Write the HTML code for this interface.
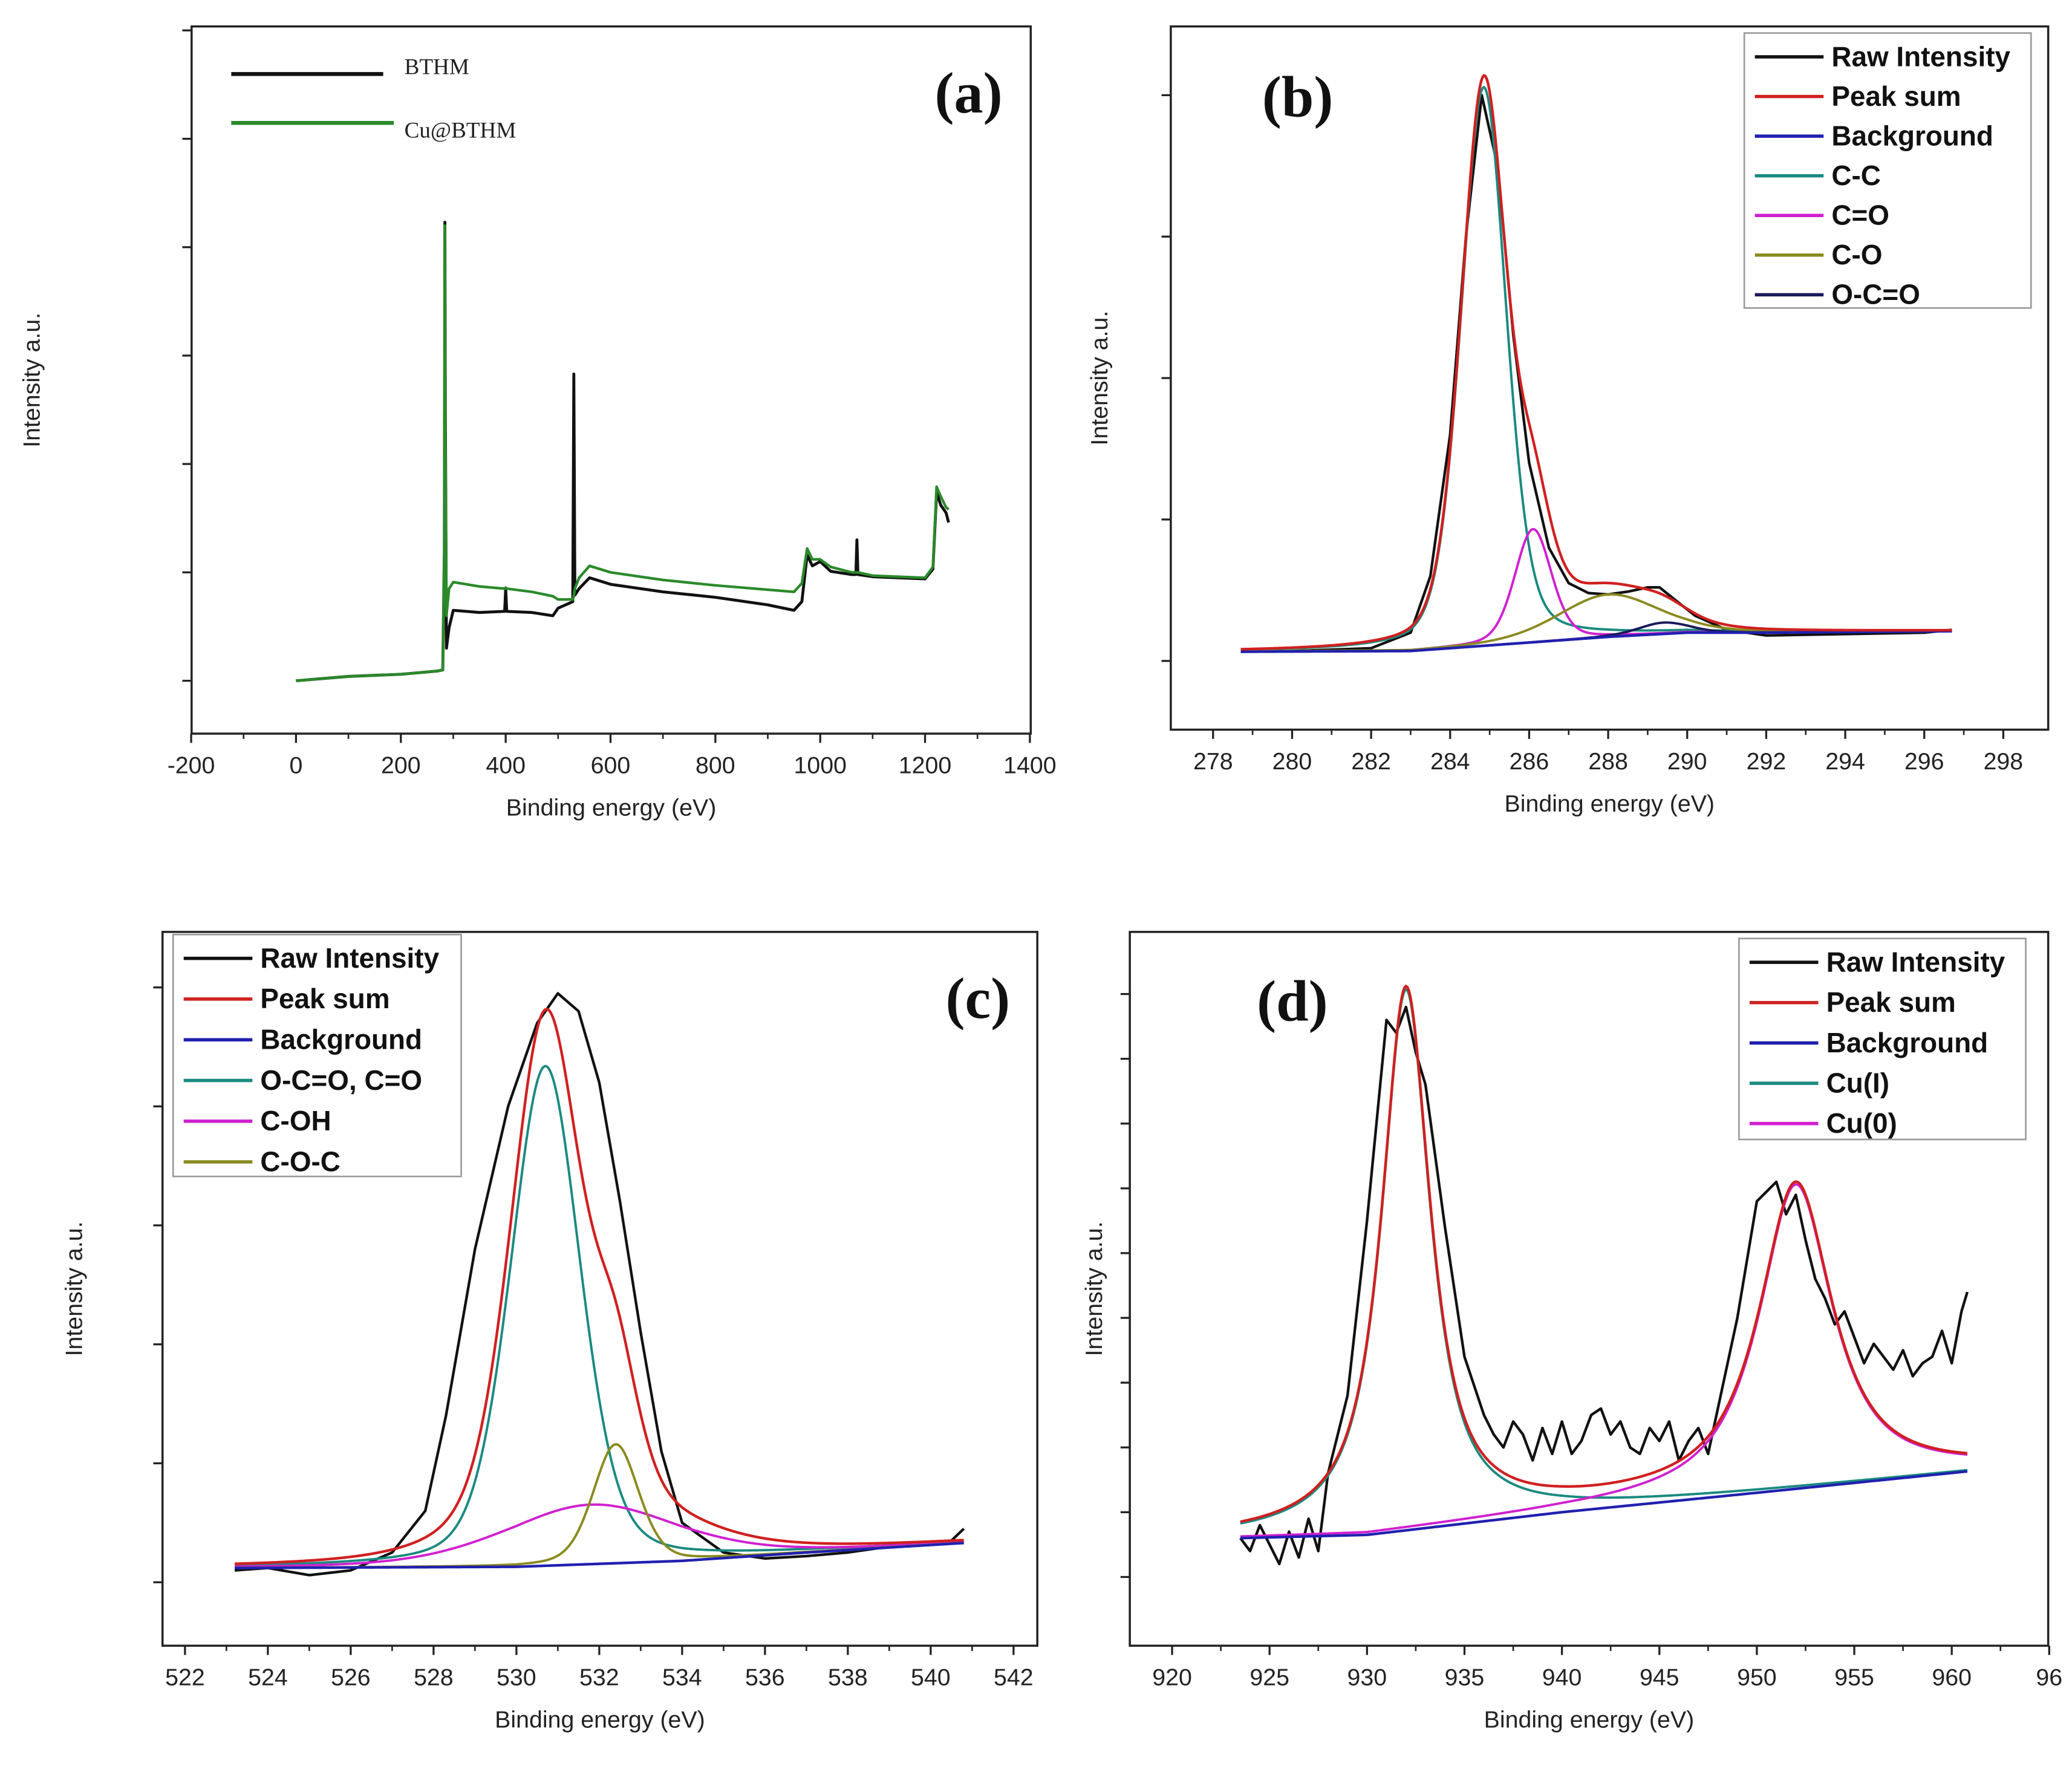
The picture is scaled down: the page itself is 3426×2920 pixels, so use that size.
<!DOCTYPE html>
<html><head><meta charset="utf-8">
<style>
html,body{margin:0;padding:0;background:#fff;}
svg{display:block;}
text{font-family:"Liberation Sans",sans-serif;}
</style></head>
<body>
<svg id="fig" xmlns="http://www.w3.org/2000/svg" width="3426" height="2920" viewBox="0 0 1568 1336" preserveAspectRatio="none">
<rect width="1568" height="1336" fill="#fff"/>
</svg>
<script>
// ---------- Panel (a) survey ----------
const aX = [0,100,200,270,280,283,284,285,287,292,300,350,398,400,402,450,490,500,528,530,532,540,560,600,700,800,900,950,965,975,985,1000,1020,1060,1068,1070,1072,1100,1200,1215,1222,1230,1240,1245];
const aBTHM = [0,0.04,0.06,0.09,0.1,1.2,4.23,2.4,0.3,0.49,0.65,0.63,0.64,0.85,0.64,0.63,0.6,0.67,0.73,2.83,0.79,0.85,0.95,0.89,0.82,0.77,0.7,0.65,0.73,1.16,1.06,1.1,1.01,0.98,0.98,1.3,0.98,0.96,0.94,1.03,1.74,1.62,1.55,1.46];
const aCu = [0,0.04,0.06,0.09,0.1,1.2,4.2,2.2,0.6,0.85,0.91,0.87,0.85,0.86,0.85,0.82,0.78,0.75,0.75,0.78,0.85,0.95,1.06,1.0,0.93,0.88,0.84,0.82,0.9,1.22,1.12,1.12,1.05,1.0,1.0,1.0,1.0,0.97,0.95,1.05,1.79,1.7,1.6,1.58];
const aXTicks = [-200,0,200,400,600,800,1000,1200,1400];
// ---------- Panel (b) C1s ----------
const bRawX = [278.7,280,282,283,283.5,284,284.4,284.8,285.2,285.6,286,286.5,287,287.5,288,288.5,289,289.3,289.7,290.2,291,292,294,296,296.7];
const bRaw = [0.065,0.07,0.09,0.2,0.6,1.6,3.0,4.0,3.5,2.3,1.4,0.8,0.55,0.48,0.47,0.49,0.52,0.52,0.43,0.32,0.22,0.18,0.19,0.2,0.22];
const bBgX = [278.7,283,284,286,288,290,292,296.7];
const bBg = [0.065,0.07,0.09,0.13,0.17,0.2,0.2,0.21];
const bNames = ["C-C","C=O","C-O","O-C=O"];
const bCenters = [284.85,286.1,288.0,289.4];
const bHeights = [3.95,0.8,0.3,0.08];
const bFwhm = [1.35,1.1,3.0,1.5];
const bXTicks = [278,280,282,284,286,288,290,292,294,296,298];
// ---------- Panel (c) O1s ----------
const cRawX = [523.2,524,525,526,527,527.8,528.3,529,529.8,530.5,531,531.5,532,532.5,533,533.5,534,535,536,537,538,539,540,540.5,540.8];
const cRaw = [0.1,0.12,0.06,0.1,0.25,0.6,1.4,2.8,4.0,4.7,4.95,4.8,4.2,3.2,2.1,1.1,0.5,0.25,0.2,0.22,0.25,0.3,0.32,0.35,0.45];
const cBgX = [523.2,530,534,537,540.8];
const cBg = [0.12,0.13,0.18,0.25,0.33];
const cNames = ["O-C=O, C=O","C-OH","C-O-C"];
const cCenters = [530.7,531.8,532.4];
const cHeights = [4.2,0.5,1.0];
const cFwhm = [2.0,5.0,1.3];
const cXTicks = [522,524,526,528,530,532,534,536,538,540,542];
// ---------- Panel (d) Cu2p ----------
const dRawX = [923.5,924,924.5,925,925.5,926,926.5,927,927.5,928,929,930,931,931.5,932,932.5,933,934,935,936,936.5,937,937.5,938,938.5,939,939.5,940,940.5,941,941.5,942,942.5,943,943.5,944,944.5,945,945.5,946,946.5,947,947.5,948,949,950,951,951.5,952,952.5,953,953.5,954,954.5,955,955.5,956,956.5,957,957.5,958,958.5,959,959.5,960,960.5,960.8];
const dRaw = [0.6,0.4,0.8,0.5,0.2,0.7,0.3,0.9,0.4,1.6,2.8,5.5,8.6,8.4,8.8,8.1,7.6,5.4,3.4,2.5,2.2,2.0,2.4,2.2,1.8,2.3,1.9,2.4,1.9,2.1,2.5,2.6,2.2,2.4,2.0,1.9,2.3,2.1,2.4,1.8,2.1,2.3,1.9,2.6,4.0,5.8,6.1,5.6,5.9,5.2,4.6,4.3,3.9,4.1,3.7,3.3,3.6,3.4,3.2,3.5,3.1,3.3,3.4,3.8,3.3,4.1,4.4];
const dBgX = [923.5,930,940,950,960.8];
const dBg = [0.6,0.65,1.0,1.3,1.63];
const dNames = ["Cu(I)","Cu(0)"];
const dCenters = [932.0,952.0];
const dHeights = [8.35,4.7];
const dFwhm = [3.0,4.5];
const dXTicks = [920,925,930,935,940,945,950,955,960,965];

const svg = document.getElementById('fig');
const NS = 'http://www.w3.org/2000/svg';
function mk(tag, attrs, parent){const e=document.createElementNS(NS,tag);for(const k in attrs)e.setAttribute(k,attrs[k]);(parent||svg).appendChild(e);return e;}
function interp(xs,ys,x){if(x<=xs[0])return ys[0];for(let i=1;i<xs.length;i++){if(x<=xs[i]){const t=(x-xs[i-1])/(xs[i]-xs[i-1]);return ys[i-1]+t*(ys[i]-ys[i-1]);}}return ys[ys.length-1];}
function pv(x,c,h,w,eta){const g=Math.exp(-4*Math.LN2*((x-c)/w)**2);const l=1/(1+4*((x-c)/w)**2);return h*(eta*l+(1-eta)*g);}

function panel(o){
  const g = mk('g',{});
  
  
  const sx = v => o.x0px + (v - o.x0) * o.kx;
  const sy = v => o.y0px - v * o.ky;
  const ax = mk('rect',{x:o.L,y:o.T,width:o.R-o.L,height:o.B-o.T,fill:'none',stroke:'#222','stroke-width':1.6},g);
  
  
  o.xticks.forEach((t,i)=>{const x=sx(t);if(x<o.L-1||x>o.R+15)return;
    mk('line',{x1:x,y1:o.B,x2:x,y2:o.B+7,stroke:'#222','stroke-width':1.5},g);
    if(i<o.xticks.length-1){const m=sx((t+o.xticks[i+1])/2);if(m<o.R)mk('line',{x1:m,y1:o.B,x2:m,y2:o.B+4,stroke:'#222','stroke-width':1.2},g);}
    const tl=mk('text',{x:x,y:o.B+30,'font-size':18,'text-anchor':'middle',fill:'#222'},g);tl.textContent=(o.xlab?o.xlab(t):t);
    
    
  });
  o.yticks.forEach(v=>{const y=sy(v);mk('line',{x1:o.L-7,y1:y,x2:o.L,y2:y,stroke:'#222','stroke-width':1.5},g);});
  const xt=mk('text',{x:(o.L+o.R)/2,y:o.B+62,'font-size':18,'text-anchor':'middle',fill:'#222'},g);xt.textContent='Binding energy (eV)';
  
  
  const yt=mk('text',{x:0,y:0,'font-size':18,'text-anchor':'middle',fill:'#222',transform:`translate(${o.ylx},${(o.T+o.B)/2}) rotate(-90)`},g);yt.textContent='Intensity a.u.';
  
  
  const pl=mk('text',{x:o.lblx,y:o.lbly,'font-size':44,'font-weight':'bold','text-anchor':'middle',fill:'#111'},g);pl.textContent=o.label;pl.style.fontFamily='"Liberation Serif",serif';
  
  
  return {g,sx,sy};
}
function line(g,xs,ys,sx,sy,color,w,name){
  const d=xs.map((x,i)=>(i?'L':'M')+sx(x).toFixed(2)+' '+sy(ys[i]).toFixed(2)).join(' ');
  const p=mk('path',{d:d,fill:'none',stroke:color,'stroke-width':w,'stroke-linejoin':'round'},g);
  
  
}
function grid(a,b,n){const r=[];for(let i=0;i<=n;i++)r.push(a+(b-a)*i/n);return r;}
function legend(g,x,y,w,h,rows,colors,fs,dy){
  if(w){const r=mk('rect',{x:x,y:y,width:w,height:h,fill:'#fff',stroke:'#999','stroke-width':1.2},g);}
  rows.forEach((t,i)=>{const yy=y+18+i*dy;
    mk('line',{x1:x+8,y1:yy,x2:x+60,y2:yy,stroke:colors[i],'stroke-width':2.5},g);
    const tx=mk('text',{x:x+66,y:yy+7,'font-size':fs,fill:'#111','font-weight':'bold'},g);tx.textContent=t;
    
    
  });
}
const COLS=['#1a8a80','#d020d0','#8a8a20','#1a1a5a'];

// Panel a
{
 const P=panel({name:'panel-a-survey',L:145,R:780,T:20,B:555,x0:0,x0px:224,kx:0.3967,y0px:515,ky:82,xticks:aXTicks,yticks:[0,1,2,3,4,5,6],ylx:30,lblx:733,lbly:85,label:'(a)'});
 line(P.g,aX,aBTHM,P.sx,P.sy,'#111',2.2,'bthm-line');
 line(P.g,aX,aCu,P.sx,P.sy,'#2a8a2a',2,'cu-bthm-line');
 const g=P.g;
 mk('line',{x1:175,y1:56,x2:290,y2:56,stroke:'#111','stroke-width':3},g);
 mk('line',{x1:175,y1:93,x2:298,y2:93,stroke:'#2a8a2a','stroke-width':3},g);
 const t1=mk('text',{x:306,y:56,'font-size':17,fill:'#222'},g);t1.textContent='BTHM';t1.style.fontFamily='"Liberation Serif",serif';
 
 const t2=mk('text',{x:306,y:104,'font-size':17,fill:'#222'},g);t2.textContent='Cu@BTHM';t2.style.fontFamily='"Liberation Serif",serif';
 
}
function fitPanel(P,rawX,raw,bgX,bg,cen,hei,fw,xa,xb,eta){
 const xs=grid(xa,xb,500);
 const bgv=xs.map(x=>interp(bgX,bg,x));
 const sum=xs.map((x,i)=>bgv[i]+cen.reduce((s,c,k)=>s+pv(x,c,hei[k],fw[k],eta),0));
 line(P.g,rawX,raw,P.sx,P.sy,'#111',2,'raw-intensity-line');
 cen.forEach((c,k)=>line(P.g,xs,xs.map((x,i)=>bgv[i]+pv(x,c,hei[k],fw[k],eta)),P.sx,P.sy,COLS[k],1.8,'component-'+k));
 line(P.g,xs,bgv,P.sx,P.sy,'#2020b0',2,'background-line');
 line(P.g,xs,sum,P.sx,P.sy,'#d02020',2,'peak-sum-line');
}
// Panel b
{
 const P=panel({name:'panel-b-c1s',L:886,R:1550,T:20,B:552,x0:278,x0px:918,kx:29.9,y0px:500,ky:107,xticks:bXTicks,yticks:[0,1,2,3,4],ylx:838,lblx:982,lbly:88,label:'(b)'});
 fitPanel(P,bRawX,bRaw,bBgX,bBg,bCenters,bHeights,bFwhm,278.7,296.7,0.3);
 legend(P.g,1320,25,217,208,['Raw Intensity','Peak sum','Background','C-C','C=O','C-O','O-C=O'],['#111','#d02020','#2020b0',COLS[0],COLS[1],COLS[2],COLS[3]],21,30);
}
// Panel c
{
 const P=panel({name:'panel-c-o1s',L:123,R:785,T:705,B:1245,x0:522,x0px:140,kx:31.35,y0px:1197,ky:90,xticks:cXTicks,yticks:[0,1,2,3,4,5],ylx:62,lblx:740,lbly:770,label:'(c)'});
 fitPanel(P,cRawX,cRaw,cBgX,cBg,cCenters,cHeights,cFwhm,523.2,540.8,0.3);
 legend(P.g,131,707,218,183,['Raw Intensity','Peak sum','Background','O-C=O, C=O','C-OH','C-O-C'],['#111','#d02020','#2020b0',COLS[0],COLS[1],COLS[2]],21,30.8);
}
// Panel d
{
 const P=panel({name:'panel-d-cu2p',L:855,R:1550,T:705,B:1245,x0:920,x0px:887,kx:14.75,y0px:1193,ky:49,xticks:dXTicks,yticks:[0,1,2,3,4,5,6,7,8,9],ylx:834,lblx:978,lbly:772,label:'(d)',xlab:t=>t===965?'96':t});
 fitPanel(P,dRawX,dRaw,dBgX,dBg,dCenters,dHeights,dFwhm,923.5,960.8,0.9);
 legend(P.g,1316,710,217,152,['Raw Intensity','Peak sum','Background','Cu(I)','Cu(0)'],['#111','#d02020','#2020b0',COLS[0],COLS[1]],21,30.5);
}
</script>
</body></html>
